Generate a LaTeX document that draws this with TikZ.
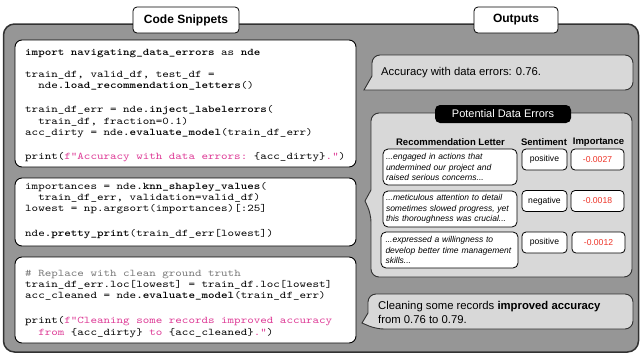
\documentclass[tikz,border=0pt]{standalone}
\usepackage{fontspec}
\setmainfont{Liberation Sans}
\newfontfamily\codefont{lmmono10-regular.otf}[BoldFont=lmmonolt10-bold.otf, FakeStretch=1.22]

\definecolor{panelgray}{RGB}{150,150,150}
\definecolor{bubblegray}{RGB}{216,216,216}
\definecolor{edgedark}{RGB}{50,50,50}
\definecolor{strmagenta}{RGB}{222,58,150}
\definecolor{impred}{RGB}{238,52,40}
\definecolor{cmtgray}{RGB}{120,120,120}

\newcommand\cbold[1]{\textbf{#1}}
\newcommand\strc[1]{\textcolor{strmagenta}{#1}}

\tikzset{
  panel/.style={draw=edgedark, line width=1.5pt, fill=panelgray, rounded corners=11pt},
  codebox/.style={draw=black, line width=0.9pt, fill=white, rounded corners=7pt, inner sep=0pt, minimum width=341pt},
  codetext/.style={anchor=north west, inner sep=0pt, align=left, font={\codefont\frenchspacing\fontsize{10.2}{11.2}\selectfont}},
  tabbox/.style={draw=black, line width=0.8pt, fill=white, rounded corners=4pt, inner sep=0pt, minimum height=26pt, font={\bfseries\fontsize{12}{14}\selectfont}},
  bubble/.style={draw=edgedark, line width=0.9pt, fill=bubblegray},
  bubbletext/.style={anchor=west, inner sep=0pt, align=left, font={\fontsize{11.3}{14}\selectfont}},
  colhead/.style={inner sep=0pt, font={\bfseries\fontsize{9.5}{11}\selectfont}},
  lettercell/.style={draw=black, line width=0.8pt, fill=white, rounded corners=5pt, inner xsep=3pt, inner ysep=0pt, text width=128pt, minimum height=36pt, align=left, font={\itshape\hyphenpenalty=10000\fontsize{8.5}{10.3}\selectfont}},
  valcell/.style={draw=black, line width=0.8pt, fill=white, rounded corners=4pt, inner sep=0pt, minimum height=21pt, font={\fontsize{8.6}{10}\selectfont}},
}

\begin{document}
\begin{tikzpicture}[x=1pt, y=-1pt]
\useasboundingbox (0,0) rectangle (640,354);

% background panel holding both columns
\draw[panel] (3.5,24) rectangle (638.5,352);

% ---------- left column: code ----------
\node[tabbox, minimum width=106pt] (codetab) at (186,20) {Code Snippets};

\node[codebox, minimum height=127pt] (code1) at (185.5,103.5) {};
\node[codetext] (code1txt) at (25,46) {%
\rule{0pt}{9pt}\cbold{import navigating\_data\_errors} as \cbold{nde}\\[11pt]
train\_df, valid\_df, test\_df =\\
\phantom{xx}nde\cbold{.load\_recommendation\_letters}()\\[13pt]
train\_df\_err = nde\cbold{.inject\_labelerrors}(\\
\phantom{xx}train\_df, fraction=0.1)\\
acc\_dirty = nde\cbold{.evaluate\_model}(train\_df\_err)\\[13pt]
print(\strc{f"Accuracy with data errors:} \{acc\_dirty\}\strc{."})};

\node[codebox, minimum height=68pt] (code2) at (185.5,212) {};
\node[codetext] (code2txt) at (25,180) {%
\rule{0pt}{9pt}importances = nde\cbold{.knn\_shapley\_values}(\\
\phantom{xx}train\_df\_err, validation=valid\_df)\\
lowest = np.argsort(importances)[:25]\\[13.5pt]
nde\cbold{.pretty\_print}(train\_df\_err[lowest])};

\node[codebox, minimum height=86pt] (code3) at (185.5,300) {};
\node[codetext] (code3txt) at (25,267) {%
\rule{0pt}{9pt}\textcolor{cmtgray}{\# Replace with clean ground truth}\\
train\_df\_err.loc[lowest] = train\_df.loc[lowest]\\
acc\_cleaned = nde\cbold{.evaluate\_model}(train\_df\_err)\\[14pt]
print(\strc{f"Cleaning some records improved accuracy}\\
\phantom{xx}\strc{from} \{acc\_dirty\} \strc{to} \{acc\_cleaned\}\strc{."})};

% ---------- right column: outputs ----------
\node[tabbox, minimum width=84pt] (outtab) at (516,20) {Outputs};

% first speech bubble
\draw[bubble, rounded corners=8pt] (372,76) -- (372,55) -- (633,55) -- (633,90) -- (380,90) [sharp corners] -- (364,90) -- cycle;
\node[bubbletext] (acc1) at (381,73) {Accuracy with data errors: 0.76.};

% error table bubble
\draw[bubble, rounded corners=8pt] (371,190) -- (371,113) -- (632,113) -- (632,277) -- (371,277) -- (371,214) [sharp corners] -- (365,201) -- cycle;
\node[fill=black, rounded corners=5pt, minimum width=136pt, minimum height=18pt, inner sep=0pt, text=white, font={\fontsize{11}{13}\selectfont}] (errlabel) at (503,114) {Potential Data Errors};

\node[colhead] (hletter) at (450.5,142) {Recommendation Letter};
\node[colhead] (hsent) at (544,142) {Sentiment};
\node[colhead] (himp) at (598.5,142) {Importance};

\node[lettercell] (l1) at (450,167) {...engaged in actions that\\undermined our project and\\raised serious concerns...};
\node[lettercell] (l2) at (450,209) {...meticulous attention to detail\\sometimes slowed progress, yet\\this thoroughness was crucial...};
\node[lettercell, inner xsep=4.5pt] (l3) at (449.5,250) {...expressed a willingness to\\develop better time management\\skills...};

\node[valcell, minimum width=45pt] (s1) at (544.5,159.5) {positive};
\node[valcell, minimum width=45pt] (s2) at (544.5,201) {negative};
\node[valcell, minimum width=45pt] (s3) at (544.5,242.5) {positive};

\node[valcell, minimum width=53pt, text=impred] (i1) at (597.5,159.5) {-0.0027};
\node[valcell, minimum width=53pt, text=impred] (i2) at (597.5,201) {-0.0018};
\node[valcell, minimum width=53pt, text=impred] (i3) at (598.5,242.5) {-0.0012};

% final speech bubble
\draw[bubble, rounded corners=8pt] (368,313) -- (368,294) -- (633,294) -- (633,329) -- (376,329) [sharp corners] -- (362,323) -- cycle;
\node[bubbletext] (acc2) at (378,312) {Cleaning some records \textbf{improved accuracy}\\from 0.76 to 0.79.};
\end{tikzpicture}
\end{document}
